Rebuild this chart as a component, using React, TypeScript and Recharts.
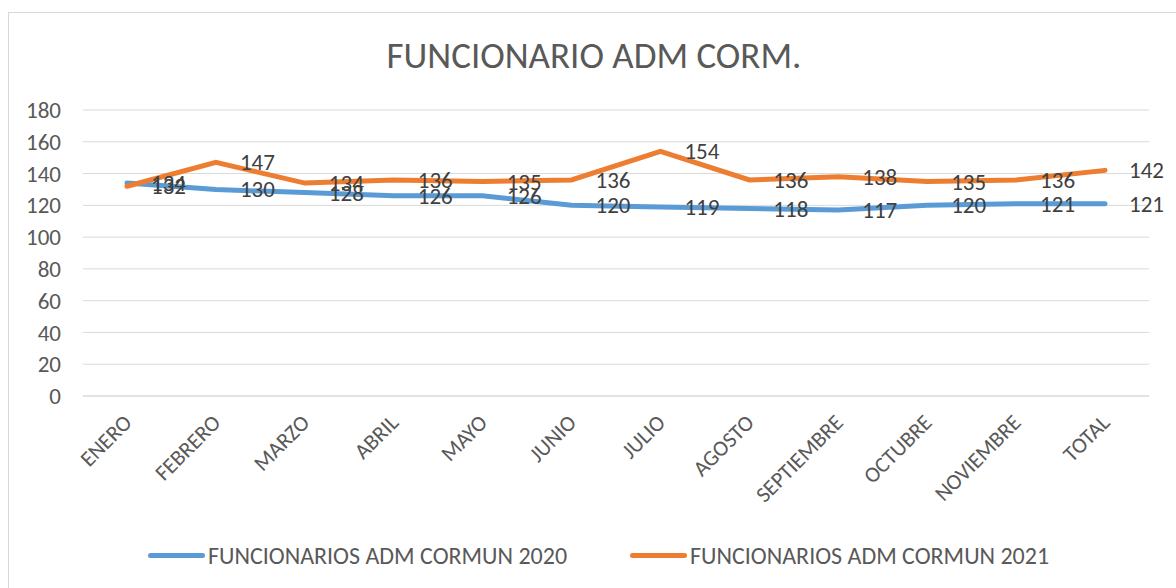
import { CartesianGrid, LabelList, Line, LineChart, XAxis, YAxis } from 'recharts';

const months = [
  'ENERO',
  'FEBRERO',
  'MARZO',
  'ABRIL',
  'MAYO',
  'JUNIO',
  'JULIO',
  'AGOSTO',
  'SEPTIEMBRE',
  'OCTUBRE',
  'NOVIEMBRE',
  'TOTAL',
];
const serie2020 = [134, 130, 128, 126, 126, 120, 119, 118, 117, 120, 121, 121];
const serie2021 = [132, 147, 134, 136, 135, 136, 154, 136, 138, 135, 136, 142];
const yTicks = [0, 20, 40, 60, 80, 100, 120, 140, 160, 180];

const FONT = "Carlito, Calibri, Lato, sans-serif";
const BLUE = '#5b9bd5';
const ORANGE = '#ed7d31';
const TEXT = '#595959';

const data = months.map((m, i) => ({
  mes: m,
  a2020: serie2020[i],
  a2021: serie2021[i],
}));

const RightLabel = (props: any) => {
  const { x, y, value } = props;
  return (
    <text
      x={x + 24}
      y={y}
      fill='#404040'
      fontSize={23}
      fontFamily={FONT}
      textAnchor='start'
      dominantBaseline='central'
    >
      {value}
    </text>
  );
};

const MonthTick = (props: any) => {
  const { x, y, payload } = props;
  return (
    <text
      transform={`translate(${x + 6},${y + 20}) rotate(-45)`}
      fill={TEXT}
      fontSize={22}
      fontFamily={FONT}
      textAnchor='end'
    >
      {payload.value}
    </text>
  );
};

const LegendItem = ({ color, label }: { color: string; label: string }) => (
  <div style={{ display: 'flex', alignItems: 'center' }}>
    <div
      style={{
        width: 57,
        height: 5,
        borderRadius: 3,
        background: color,
        marginRight: 3,
      }}
    />
    <span style={{ color: TEXT, fontSize: 24, fontFamily: FONT }}>{label}</span>
  </div>
);

export default function App() {
  return (
    <div
      style={{
        position: 'absolute',
        left: 8,
        top: 12,
        width: 1180,
        height: 590,
        border: '1px solid #d9d9d9',
        background: '#fff',
        overflow: 'hidden',
      }}
    >
      <div
        style={{
          position: 'absolute',
          left: 0,
          width: 1170,
          top: 20,
          textAlign: 'center',
          color: TEXT,
          fontSize: 37,
          fontFamily: FONT,
        }}
      >
        FUNCIONARIO ADM CORM.
      </div>
      <LineChart
        width={1166}
        height={575}
        data={data}
        margin={{ top: 97, right: 26, bottom: 0, left: 0 }}
      >
        <CartesianGrid vertical={false} stroke='#d9d9d9' strokeWidth={1} />
        <XAxis
          dataKey='mes'
          height={192}
          interval={0}
          padding={{ left: 44, right: 44 }}
          axisLine={{ stroke: '#d9d9d9' }}
          tickLine={false}
          tick={<MonthTick />}
        />
        <YAxis
          width={74}
          domain={[0, 180]}
          ticks={yTicks}
          interval={0}
          axisLine={false}
          tickLine={false}
          tickMargin={16}
          tick={{ fill: TEXT, fontSize: 23, fontFamily: FONT }}
        />
        <Line
          type='linear'
          dataKey='a2020'
          stroke={BLUE}
          strokeWidth={5}
          strokeLinecap='round'
          dot={false}
          isAnimationActive={false}
        >
          <LabelList dataKey='a2020' content={<RightLabel />} />
        </Line>
        <Line
          type='linear'
          dataKey='a2021'
          stroke={ORANGE}
          strokeWidth={5}
          strokeLinecap='round'
          dot={false}
          isAnimationActive={false}
        >
          <LabelList dataKey='a2021' content={<RightLabel />} />
        </Line>
      </LineChart>
      <div
        style={{
          position: 'absolute',
          top: 528,
          left: 139,
          display: 'flex',
          gap: 63,
        }}
      >
        <LegendItem color={BLUE} label='FUNCIONARIOS ADM CORMUN 2020' />
        <LegendItem color={ORANGE} label='FUNCIONARIOS ADM CORMUN 2021' />
      </div>
    </div>
  );
}
